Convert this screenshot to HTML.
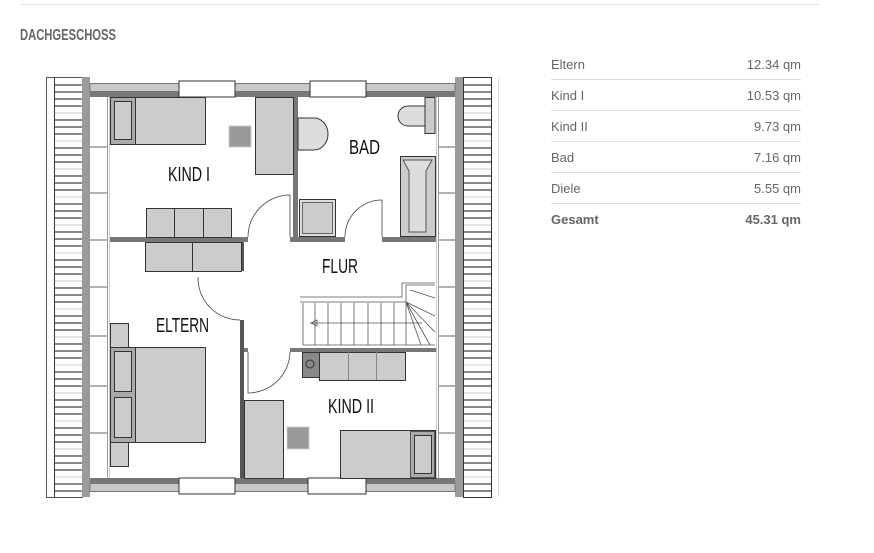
<!DOCTYPE html>
<html><head><meta charset="utf-8"><style>
html,body{margin:0;padding:0;background:#fff;width:874px;height:553px;overflow:hidden}
</style></head><body>
<svg width="874" height="553" viewBox="0 0 874 553" xmlns="http://www.w3.org/2000/svg" font-family="'Liberation Sans',sans-serif">
<line x1="20" y1="4.5" x2="820" y2="4.5" stroke="#e3e3e3"/>
<text x="20" y="40" font-size="16" font-weight="bold" fill="#666" textLength="96" lengthAdjust="spacingAndGlyphs">DACHGESCHOSS</text>
<g font-family="'Liberation Sans',sans-serif" font-size="13" fill="#666">
<text x="551" y="69">Eltern</text><text x="801" y="69" text-anchor="end">12.34 qm</text>
<text x="551" y="100">Kind I</text><text x="801" y="100" text-anchor="end">10.53 qm</text>
<text x="551" y="131">Kind II</text><text x="801" y="131" text-anchor="end">9.73 qm</text>
<text x="551" y="162">Bad</text><text x="801" y="162" text-anchor="end">7.16 qm</text>
<text x="551" y="193">Diele</text><text x="801" y="193" text-anchor="end">5.55 qm</text>
<text x="551" y="224" font-weight="bold">Gesamt</text><text x="801" y="224" text-anchor="end" font-weight="bold">45.31 qm</text>
</g>
<g stroke="#ddd"><line x1="551" y1="79.5" x2="801" y2="79.5"/><line x1="551" y1="110.5" x2="801" y2="110.5"/><line x1="551" y1="141.5" x2="801" y2="141.5"/><line x1="551" y1="172.5" x2="801" y2="172.5"/><line x1="551" y1="203.5" x2="801" y2="203.5"/></g>

<rect x="46.5" y="77.5" width="36" height="420" fill="#fff" stroke="#555"/>
<line x1="54.5" y1="77" x2="54.5" y2="497" stroke="#333"/>
<rect x="82" y="77" width="8" height="420" fill="#9a9a9a"/>
<g id="hl" stroke="#111" stroke-width="1">
<path d="M55 85h27M55 92h27M55 99h27M55 106h27M55 120h27M55 127h27M55 134h27M55 148h27M55 155h27M55 162h27M55 176h27M55 183h27M55 190h27M55 204h27M55 211h27M55 218h27M55 232h27M55 239h27M55 246h27M55 260h27M55 267h27M55 274h27M55 288h27M55 295h27M55 302h27M55 316h27M55 323h27M55 330h27M55 344h27M55 351h27M55 358h27M55 372h27M55 379h27M55 386h27M55 400h27M55 407h27M55 414h27M55 428h27M55 435h27M55 442h27M55 456h27M55 463h27M55 470h27M55 484h27M55 491h27"/>
</g>
<g stroke="#ccc"><path d="M55 113h27M55 141h27M55 169h27M55 197h27M55 225h27M55 253h27M55 281h27M55 309h27M55 337h27M55 365h27M55 393h27M55 421h27M55 449h27M55 477h27"/></g>
<rect x="455" y="77" width="8" height="420" fill="#9a9a9a"/>
<rect x="463.5" y="77.5" width="28" height="420" fill="#fff" stroke="#333"/>
<line x1="498.5" y1="77" x2="498.5" y2="497" stroke="#ddd"/>
<use href="#hl" transform="translate(409,0)"/>
<g stroke="#ccc" transform="translate(409,0)"><path d="M55 113h27M55 141h27M55 169h27M55 197h27M55 225h27M55 253h27M55 281h27M55 309h27M55 337h27M55 365h27M55 393h27M55 421h27M55 449h27M55 477h27"/></g>

<line x1="107.5" y1="97" x2="107.5" y2="478" stroke="#999"/>
<line x1="109.5" y1="97" x2="109.5" y2="478" stroke="#ccc"/>
<line x1="438.5" y1="97" x2="438.5" y2="478" stroke="#999"/>
<line x1="436.5" y1="97" x2="436.5" y2="478" stroke="#ccc"/>
<g stroke="#666"><path d="M90 147h17M90 193h17M90 240h17M90 287h17M90 336h17M90 386h17M90 433h17M439 147h16M439 193h16M439 240h16M439 287h16M439 336h16M439 386h16M439 433h16"/></g>

<rect x="90" y="83.5" width="365" height="8" fill="#c8c8c8" stroke="#777"/>
<rect x="90" y="91" width="365" height="6" fill="#777"/>
<rect x="179" y="81" width="56" height="16" fill="#fff" stroke="#333"/>
<rect x="310" y="81" width="56" height="16" fill="#fff" stroke="#333"/>
<rect x="90" y="478" width="365" height="5" fill="#777"/>
<rect x="90" y="483.5" width="365" height="8" fill="#c8c8c8" stroke="#777"/>
<rect x="179" y="478" width="56" height="16" fill="#fff" stroke="#333"/>
<rect x="308" y="478" width="58" height="16" fill="#fff" stroke="#333"/>

<rect x="110" y="237" width="138" height="5" fill="#777"/>
<rect x="240" y="242" width="4" height="29" fill="#555"/>
<rect x="240" y="320" width="4" height="158" fill="#555"/>
<rect x="293" y="97" width="5" height="140" fill="#777"/>
<rect x="290" y="237" width="55" height="5" fill="#777"/>
<rect x="382" y="237" width="54" height="5" fill="#777"/>
<rect x="290" y="348" width="146" height="4" fill="#777"/>
<rect x="244" y="348" width="4" height="4" fill="#777"/>

<g fill="none" stroke="#444" stroke-width="0.8">
<path d="M248 237 A42 42 0 0 1 290 195 V237"/>
<path d="M345 237 A37 37 0 0 1 382 200 V237"/>
<path d="M198 277 A42 42 0 0 0 240 320"/>
<path d="M290 352 A42 42 0 0 1 248 393 V352"/>
</g>

<rect x="110.5" y="97.5" width="95" height="47" fill="#ccc" stroke="#333"/>
<rect x="110.5" y="97.5" width="25" height="47" fill="#aaa" stroke="#333"/>
<rect x="114.5" y="101.5" width="17" height="38" fill="#ccc" stroke="#333"/>
<rect x="229" y="126" width="22" height="21" fill="#999" stroke="#ccc"/>
<rect x="255.5" y="97.5" width="38" height="77" fill="#ccc" stroke="#333"/>
<rect x="146.5" y="208.5" width="85" height="29" fill="#ccc" stroke="#333"/>
<path d="M174.5 208v29M203.5 208v29" stroke="#333"/>
<rect x="145.5" y="242.5" width="96" height="29" fill="#ccc" stroke="#333"/>
<path d="M192.5 242v29" stroke="#333"/>

<path d="M425 97.5h10v36h-10z" fill="#ccc" stroke="#333"/>
<path d="M425 106h-17a10 10 0 0 0 0 20h17z" fill="#ddd" stroke="#333"/>
<path d="M298 118h16a14 16 0 0 1 0 32h-16z" fill="#ddd" stroke="#333"/>
<rect x="299.5" y="199.5" width="36" height="37" fill="#ddd" stroke="#333"/>
<rect x="302.5" y="202.5" width="30" height="31" fill="#ccc" stroke="#666"/>
<rect x="400.5" y="156.5" width="35" height="80" fill="#ccc" stroke="#333"/>
<path d="M403 160h29l-6 11v61h-17v-61z" fill="#ddd" stroke="#555"/>

<g fill="none" stroke="#555" stroke-width="0.8">
<path d="M300 297h102v-14h33M300 302h106v-17h29"/>
<path d="M303 303v42M315 303v42M328 303v42M341 303v42M354 303v42M368 303v42M381 303v42M394 303v42M406 303v42M406 302l29 14M406 302l29 30M406 302l15 43M406 302l24 43M410 290l25 8M303 345h132M310 323h112"/>
<path d="M317 320l-6 3 6 3z"/>
</g>

<rect x="302.5" y="352.5" width="17" height="25" fill="#888" stroke="#333"/>
<circle cx="310" cy="364" r="4" fill="none" stroke="#333"/>
<rect x="319.5" y="352.5" width="86" height="28" fill="#ccc" stroke="#333"/>
<path d="M348.5 352v28M376.5 352v28" stroke="#888"/>
<rect x="244.5" y="400.5" width="39" height="78" fill="#ccc" stroke="#333"/>
<rect x="287" y="427" width="22" height="22" fill="#999" stroke="#ccc"/>
<rect x="340.5" y="430.5" width="95" height="48" fill="#ccc" stroke="#333"/>
<rect x="410.5" y="431.5" width="24" height="46" fill="#aaa" stroke="#555"/>
<rect x="414.5" y="435.5" width="17" height="38" fill="#ccc" stroke="#333"/>

<rect x="110.5" y="323.5" width="18" height="143" fill="#ccc" stroke="#333"/>
<rect x="110.5" y="347.5" width="95" height="95" fill="#ccc" stroke="#333"/>
<rect x="110.5" y="347.5" width="25" height="95" fill="#aaa" stroke="#333"/>
<rect x="114.5" y="351.5" width="17" height="40" fill="#ccc" stroke="#333"/>
<rect x="114.5" y="397.5" width="17" height="40" fill="#ccc" stroke="#333"/>

<g font-size="20" fill="#111">
<text x="168" y="181" textLength="42" lengthAdjust="spacingAndGlyphs">KIND I</text>
<text x="349" y="154" textLength="31" lengthAdjust="spacingAndGlyphs">BAD</text>
<text x="322" y="273" textLength="36" lengthAdjust="spacingAndGlyphs">FLUR</text>
<text x="156" y="332" textLength="53" lengthAdjust="spacingAndGlyphs">ELTERN</text>
<text x="328" y="413" textLength="46" lengthAdjust="spacingAndGlyphs">KIND II</text>
</g>
</svg>
</body></html>
